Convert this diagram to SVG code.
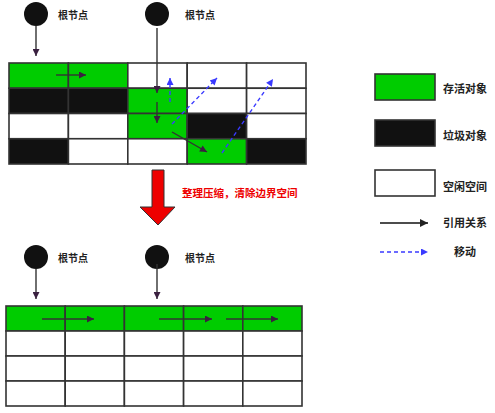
<svg xmlns="http://www.w3.org/2000/svg" width="495" height="413" viewBox="0 0 495 413">
<style>
.g{fill:#00cc00;stroke:#333;stroke-width:1.6}
.b{fill:#111;stroke:#333;stroke-width:1.6}
.w{fill:#fff;stroke:#333;stroke-width:1.6}
.root{fill:#111}
.lbl{font-family:"Noto Sans CJK SC","Noto Sans",sans-serif;font-size:10px;font-weight:bold;fill:#222}
.leg{font-family:"Noto Sans CJK SC","Noto Sans",sans-serif;font-size:11px;font-weight:bold;fill:#222}
.ref{stroke:#333;stroke-width:1.4;fill:none;marker-end:url(#ah)}
.mv{stroke:#3a3aff;stroke-width:1.4;fill:none;stroke-dasharray:4,3;marker-end:url(#bh)}
</style>
<defs>
<marker id="ah" viewBox="0 0 10 10" refX="10" refY="5" markerWidth="11" markerHeight="7" markerUnits="userSpaceOnUse" orient="auto"><path d="M0,0L10,5L0,10z" fill="#3a2040"/></marker>
<marker id="ah2" viewBox="0 0 10 10" refX="10" refY="5" markerWidth="12" markerHeight="8" markerUnits="userSpaceOnUse" orient="auto"><path d="M0,0L10,5L0,10z" fill="#222"/></marker>
<marker id="bh" viewBox="0 0 10 10" refX="10" refY="5" markerWidth="10" markerHeight="7" markerUnits="userSpaceOnUse" orient="auto"><path d="M0,0L10,5L0,10z" fill="#3a3aff"/></marker>
</defs>

<g id="top-heap">
<rect class="g" x="9" y="63" width="59.4" height="25.25"/>
<rect class="g" x="68.4" y="63" width="59.4" height="25.25"/>
<rect class="w" x="127.8" y="63" width="59.4" height="25.25"/>
<rect class="w" x="187.2" y="63" width="59.4" height="25.25"/>
<rect class="w" x="246.6" y="63" width="59.4" height="25.25"/>
<rect class="b" x="9" y="88.25" width="59.4" height="25.25"/>
<rect class="b" x="68.4" y="88.25" width="59.4" height="25.25"/>
<rect class="g" x="127.8" y="88.25" width="59.4" height="25.25"/>
<rect class="w" x="187.2" y="88.25" width="59.4" height="25.25"/>
<rect class="w" x="246.6" y="88.25" width="59.4" height="25.25"/>
<rect class="w" x="9" y="113.5" width="59.4" height="25.25"/>
<rect class="w" x="68.4" y="113.5" width="59.4" height="25.25"/>
<rect class="g" x="127.8" y="113.5" width="59.4" height="25.25"/>
<rect class="b" x="187.2" y="113.5" width="59.4" height="25.25"/>
<rect class="w" x="246.6" y="113.5" width="59.4" height="25.25"/>
<rect class="b" x="9" y="138.75" width="59.4" height="25.25"/>
<rect class="w" x="68.4" y="138.75" width="59.4" height="25.25"/>
<rect class="w" x="127.8" y="138.75" width="59.4" height="25.25"/>
<rect class="g" x="187.2" y="138.75" width="59.4" height="25.25"/>
<rect class="b" x="246.6" y="138.75" width="59.4" height="25.25"/>
</g>

<g id="top-root1"><circle class="root" cx="36" cy="14" r="12"/><text class="lbl" x="58" y="19">根节点</text></g>
<g id="top-root2"><circle class="root" cx="157" cy="14" r="12"/><text class="lbl" x="185" y="19">根节点</text></g>

<g id="bottom-heap">
<rect class="g" x="6" y="306" width="59.2" height="25"/>
<rect class="g" x="65.2" y="306" width="59.2" height="25"/>
<rect class="g" x="124.4" y="306" width="59.2" height="25"/>
<rect class="g" x="183.6" y="306" width="59.2" height="25"/>
<rect class="g" x="242.8" y="306" width="59.2" height="25"/>
<rect class="w" x="6" y="331" width="59.2" height="25"/>
<rect class="w" x="65.2" y="331" width="59.2" height="25"/>
<rect class="w" x="124.4" y="331" width="59.2" height="25"/>
<rect class="w" x="183.6" y="331" width="59.2" height="25"/>
<rect class="w" x="242.8" y="331" width="59.2" height="25"/>
<rect class="w" x="6" y="356" width="59.2" height="25"/>
<rect class="w" x="65.2" y="356" width="59.2" height="25"/>
<rect class="w" x="124.4" y="356" width="59.2" height="25"/>
<rect class="w" x="183.6" y="356" width="59.2" height="25"/>
<rect class="w" x="242.8" y="356" width="59.2" height="25"/>
<rect class="w" x="6" y="381" width="59.2" height="25"/>
<rect class="w" x="65.2" y="381" width="59.2" height="25"/>
<rect class="w" x="124.4" y="381" width="59.2" height="25"/>
<rect class="w" x="183.6" y="381" width="59.2" height="25"/>
<rect class="w" x="242.8" y="381" width="59.2" height="25"/>
</g>

<g id="bottom-root1"><circle class="root" cx="36" cy="257" r="12"/><text class="lbl" x="58" y="262">根节点</text></g>
<g id="bottom-root2"><circle class="root" cx="157" cy="257" r="12"/><text class="lbl" x="185" y="262">根节点</text></g>

<g id="compact-arrow">
<path d="M152,170H164V207H175L158,225L140,207H152Z" fill="#ee0000" stroke="#333" stroke-width="1"/>
<text x="182" y="197" font-family="Noto Sans CJK SC,sans-serif" font-size="10.5" font-weight="bold" fill="#ee0000">整理压缩，清除边界空间</text>
</g>

<g id="legend">
<rect class="g" x="375" y="74" width="60" height="26"/>
<text class="leg" x="443" y="93">存活对象</text>
<rect class="b" x="375" y="120" width="60" height="26"/>
<text class="leg" x="443" y="140">垃圾对象</text>
<rect class="w" x="375" y="170" width="60" height="26"/>
<text class="leg" x="443" y="191">空闲空间</text>
<line x1="380" y1="223" x2="428" y2="223" stroke="#111" stroke-width="1.3" marker-end="url(#ah2)"/>
<text class="leg" x="443" y="227">引用关系</text>
<line x1="380" y1="252" x2="428" y2="252" class="mv"/>
<text class="leg" x="454" y="256">移动</text>
</g>

<g id="connectors">
<line class="ref" x1="36" y1="26" x2="36" y2="56"/>
<line class="ref" x1="157" y1="28" x2="157" y2="93"/>
<line class="ref" x1="157" y1="102" x2="157" y2="123"/>
<line class="ref" x1="172" y1="132" x2="207" y2="152"/>
<line class="ref" x1="56" y1="75" x2="86" y2="75"/>
<line class="mv" x1="170" y1="102" x2="170" y2="78"/>
<line class="mv" x1="172" y1="124" x2="217" y2="78"/>
<line class="mv" x1="222" y1="153" x2="273" y2="79"/>
<line class="ref" x1="36" y1="269" x2="36" y2="299"/>
<line class="ref" x1="157" y1="264" x2="157" y2="299"/>
<line class="ref" x1="42" y1="319" x2="94" y2="319"/>
<line class="ref" x1="159" y1="319" x2="212" y2="319"/>
<line class="ref" x1="226" y1="319" x2="278" y2="319"/>
</g>
</svg>
